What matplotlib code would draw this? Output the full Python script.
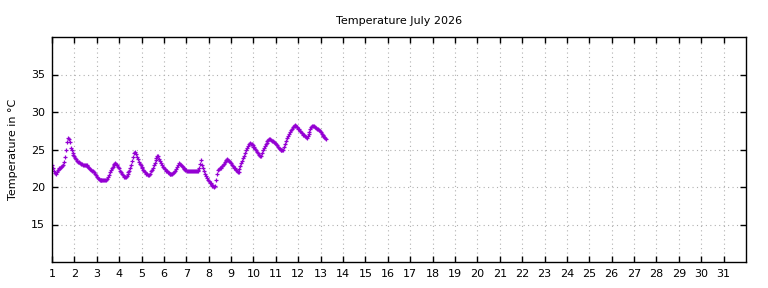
import numpy as np
import matplotlib
matplotlib.use("Agg")
import matplotlib.pyplot as plt

# hourly readings, starting 1 July 00:00
start_day = 1.0
step_days = 1 / 24
temps = [
    23.0, 22.6, 22.2, 21.9, 21.8, 22.0, 22.3, 22.4, 22.5, 22.6, 22.7, 22.8,
    22.9, 23.3, 24.0, 25.0, 26.0, 26.5, 26.4, 26.0, 25.2, 24.9, 24.6, 24.3,  # day 1
    24.1, 23.9, 23.7, 23.5, 23.4, 23.3, 23.2, 23.1, 23.1, 23.0, 23.0, 23.0,
    23.0, 22.9, 22.8, 22.7, 22.6, 22.4, 22.3, 22.2, 22.1, 22.0, 21.8, 21.6,  # day 2
    21.4, 21.2, 21.1, 21.0, 20.9, 20.9, 20.9, 20.9, 20.9, 20.9, 21.0, 21.1,
    21.3, 21.6, 22.0, 22.3, 22.5, 22.7, 22.9, 23.1, 23.2, 23.1, 22.9, 22.7,  # day 3
    22.5, 22.2, 22.0, 21.8, 21.6, 21.4, 21.3, 21.3, 21.5, 21.7, 22.0, 22.2,
    22.5, 23.0, 23.5, 24.0, 24.5, 24.7, 24.4, 24.0, 23.7, 23.4, 23.1, 22.9,  # day 4
    22.7, 22.5, 22.3, 22.1, 22.0, 21.8, 21.7, 21.6, 21.6, 21.8, 22.1, 22.3,
    22.6, 22.9, 23.2, 23.6, 23.9, 24.2, 24.1, 23.8, 23.5, 23.2, 22.9, 22.7,  # day 5
    22.6, 22.4, 22.2, 22.1, 22.0, 21.9, 21.8, 21.7, 21.7, 21.8, 21.9, 22.0,
    22.2, 22.4, 22.7, 23.0, 23.2, 23.1, 23.0, 22.8, 22.7, 22.5, 22.4, 22.3,  # day 6
    22.3, 22.2, 22.2, 22.2, 22.1, 22.1, 22.1, 22.1, 22.1, 22.1, 22.1, 22.1,
    22.2, 22.3, 22.6, 23.1, 23.6, 23.0, 22.5, 22.1, 21.8, 21.5, 21.2, 21.0,  # day 7
    20.8, 20.6, 20.5, 20.3, 20.2, 20.1, 20.0, 20.1, 21.0, 21.8, 22.3, 22.4,
    22.5, 22.6, 22.8, 22.9, 23.1, 23.3, 23.5, 23.6, 23.7, 23.6, 23.5, 23.4,  # day 8
    23.2, 23.0, 22.8, 22.6, 22.5, 22.3, 22.1, 22.0, 22.0, 22.4, 22.8, 23.2,
    23.5, 23.9, 24.2, 24.6, 24.9, 25.2, 25.5, 25.7, 25.9, 25.8, 25.7, 25.6,  # day 9
    25.4, 25.3, 25.1, 24.9, 24.7, 24.5, 24.3, 24.2, 24.2, 24.5, 24.9, 25.2,
    25.5, 25.7, 25.9, 26.1, 26.3, 26.4, 26.4, 26.3, 26.2, 26.1, 26.0, 25.9,  # day 10
    25.7, 25.6, 25.4, 25.2, 25.1, 25.0, 24.9, 24.9, 25.0, 25.4, 25.8, 26.2,
    26.5, 26.8, 27.1, 27.4, 27.6, 27.8, 28.0, 28.2, 28.3, 28.2, 28.1, 28.0,  # day 11
    27.8, 27.7, 27.5, 27.3, 27.2, 27.0, 26.9, 26.8, 26.7, 26.6, 26.8, 27.1,
    27.4, 27.7, 28.0, 28.2, 28.2, 28.1, 28.0, 27.9, 27.8, 27.7, 27.6, 27.5,  # day 12
    27.3, 27.1, 27.0, 26.8, 26.7, 26.5, 26.4,                                # day 13
]
days = start_day + np.arange(len(temps)) * step_days

x_ticks = list(range(1, 32))
y_ticks = [15, 20, 25, 30, 35]

plt.rcParams['font.family'] = 'DejaVu Sans'
plt.rcParams['font.size'] = 8

fig = plt.figure(figsize=(7.68, 2.88), dpi=100)
ax = fig.add_axes([52 / 768, 26 / 288, 694 / 768, 225 / 288])

ax.plot(days, temps, linestyle='none', marker='+', markersize=3.5,
        markeredgewidth=0.9, color='#9400D3')

ax.set_xlim(1, 32)
ax.set_ylim(10, 40)
ax.set_xticks(x_ticks)
ax.set_yticks(y_ticks)
ax.tick_params(direction='in', length=4, width=1, top=True, right=True,
               labelsize=8, pad=5, colors='black')
ax.grid(True, color='#b0b0b0', linestyle=(0, (1, 3)), linewidth=0.8)
for s in ax.spines.values():
    s.set_linewidth(1)

ax.set_title('Temperature July 2026', fontsize=8, pad=9)
ax.set_ylabel('Temperature in °C', fontsize=8, labelpad=9)

fig.savefig('out.png', dpi=100)
